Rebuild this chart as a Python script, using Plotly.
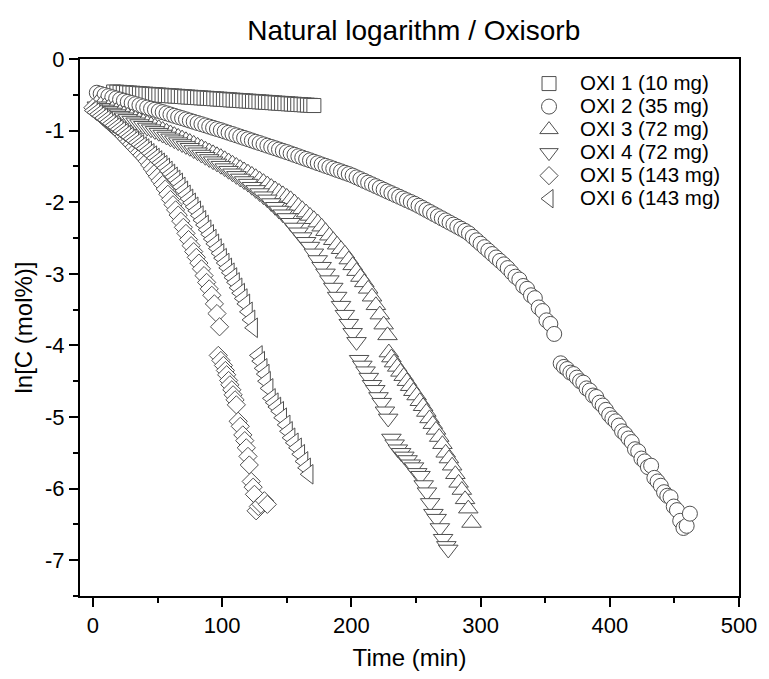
import plotly.graph_objects as go

# ---- measured series: time (min) and ln of concentration (mol%) ----
time_oxi1 = [16, 18.5, 21, 23.5, 26, 28.5, 31, 33.5, 36, 38.5, 41, 43.5, 46, 48.5, 51, 53.5,
             56, 58.5, 61, 63.5, 66, 68.5, 71, 73.5, 76, 78.5, 81, 83.5, 86, 88.5, 91, 93.5,
             96, 98.5, 101, 103.5, 106, 108.5, 111, 113.5, 116, 118.5, 121, 123.5, 126, 128.5,
             131, 133.5, 136, 138.5, 141, 143.5, 146, 148.5, 151, 153.5, 156, 158.5, 161, 163.5,
             166, 168.5, 171]
lnc_oxi1 = [-0.460, -0.463, -0.466, -0.469, -0.472, -0.475, -0.478, -0.481, -0.485, -0.488,
            -0.491, -0.494, -0.497, -0.500, -0.503, -0.506, -0.509, -0.512, -0.515, -0.518,
            -0.521, -0.524, -0.528, -0.531, -0.534, -0.537, -0.540, -0.543, -0.546, -0.549,
            -0.552, -0.555, -0.558, -0.561, -0.564, -0.567, -0.571, -0.574, -0.577, -0.580,
            -0.583, -0.586, -0.589, -0.592, -0.595, -0.598, -0.601, -0.604, -0.607, -0.610,
            -0.614, -0.617, -0.620, -0.623, -0.626, -0.629, -0.632, -0.635, -0.638, -0.641,
            -0.644, -0.647, -0.650]

time_oxi2 = [3, 6, 9, 12, 15, 18, 21, 24, 27, 30, 33, 36, 39, 42, 45, 48, 51, 54, 57, 60,
             63, 66, 69, 72, 75, 78, 81, 84, 87, 90, 93, 96, 99, 102, 105, 108, 111, 114, 117,
             120, 123, 126, 129, 132, 135, 138, 141, 144, 147, 150, 153, 156, 159, 162, 165,
             168, 171, 174, 177, 180, 183, 186, 189, 192, 195, 198, 201, 204, 207, 210, 213,
             216, 219, 222, 225, 228, 231, 234, 237, 240, 243, 246, 249, 252, 255, 258, 261,
             264, 267, 270, 273, 276, 279, 282, 285, 288, 291, 294, 297, 300, 303, 306, 309,
             312, 315, 318, 321, 324, 327, 330, 333, 336, 339, 342, 345, 348, 351, 354, 357,
             362, 364.5, 367, 369.5, 372, 374.5, 377, 379.5, 382, 384.5, 387, 389.5, 392, 394.5,
             397, 399.5, 402, 404.5, 407, 409.5, 412, 414.5, 417, 419.5, 422, 424.5, 427, 429.5,
             432, 434.5, 437, 439.5, 442, 444.5, 447, 449.5, 452, 454.5, 457, 459.5, 462]
lnc_oxi2 = [-0.471, -0.487, -0.503, -0.519, -0.535, -0.550, -0.566, -0.582, -0.598, -0.614,
            -0.630, -0.646, -0.662, -0.678, -0.694, -0.709, -0.726, -0.742, -0.759, -0.776,
            -0.793, -0.810, -0.826, -0.843, -0.860, -0.877, -0.894, -0.910, -0.927, -0.944,
            -0.961, -0.978, -0.994, -1.012, -1.030, -1.048, -1.066, -1.084, -1.102, -1.120,
            -1.138, -1.156, -1.174, -1.192, -1.210, -1.228, -1.246, -1.264, -1.282, -1.300,
            -1.319, -1.338, -1.358, -1.377, -1.396, -1.415, -1.434, -1.454, -1.473, -1.492,
            -1.511, -1.530, -1.550, -1.569, -1.588, -1.607, -1.628, -1.653, -1.677, -1.702,
            -1.727, -1.751, -1.776, -1.800, -1.825, -1.850, -1.874, -1.899, -1.923, -1.948,
            -1.973, -1.997, -2.022, -2.050, -2.079, -2.108, -2.137, -2.167, -2.196, -2.225,
            -2.254, -2.284, -2.313, -2.342, -2.371, -2.401, -2.436, -2.484, -2.532, -2.580,
            -2.628, -2.676, -2.724, -2.772, -2.820, -2.868, -2.920, -2.980, -3.040, -3.080,
            -3.170, -3.210, -3.300, -3.340, -3.470, -3.520, -3.650, -3.700, -3.840,
            -4.25, -4.30, -4.33, -4.38, -4.40, -4.45, -4.50, -4.52, -4.60, -4.63, -4.70, -4.72,
            -4.80, -4.84, -4.90, -4.97, -5.02, -5.06, -5.12, -5.20, -5.24, -5.30, -5.35, -5.45,
            -5.48, -5.58, -5.62, -5.70, -5.68, -5.85, -5.90, -5.96, -6.05, -6.10, -6.12, -6.25,
            -6.30, -6.45, -6.55, -6.52, -6.35]

time_oxi3 = [3, 6, 9, 12, 15, 18, 21, 24, 27, 30, 33, 36, 39, 42, 45, 48, 51, 54, 57, 60,
             63, 66, 69, 72, 75, 78, 81, 84, 87, 90, 93, 96, 99, 102, 105, 108, 111, 114, 117,
             120, 123, 126, 129, 132, 135, 138, 141, 144, 147, 150, 153, 156, 159, 162, 165,
             168, 171, 174, 177, 180, 183, 186, 189, 192, 195, 198, 201, 204, 207, 210, 213,
             216, 219, 222, 225, 228,
             229, 231, 233, 235.5, 238, 240.5, 243, 245.5, 248, 250.5, 253, 255.5, 258, 260.5,
             263, 265.5, 268, 270.5, 273, 275.5, 278, 280.5, 283, 285.5, 288, 290.5, 293]
lnc_oxi3 = [-0.620, -0.642, -0.664, -0.685, -0.707, -0.729, -0.751, -0.773, -0.794, -0.816,
            -0.838, -0.859, -0.881, -0.902, -0.924, -0.946, -0.968, -0.992, -1.016, -1.040,
            -1.064, -1.088, -1.112, -1.136, -1.160, -1.186, -1.213, -1.239, -1.266, -1.292,
            -1.318, -1.345, -1.371, -1.401, -1.432, -1.463, -1.494, -1.526, -1.557, -1.588,
            -1.619, -1.651, -1.686, -1.720, -1.754, -1.789, -1.823, -1.857, -1.891, -1.926,
            -1.960, -2.006, -2.053, -2.099, -2.145, -2.192, -2.238, -2.285, -2.342, -2.405,
            -2.468, -2.531, -2.594, -2.657, -2.720, -2.801, -2.882, -2.963, -3.045, -3.120,
            -3.210, -3.320, -3.440, -3.570, -3.710, -3.860,
            -4.10, -4.17, -4.24, -4.30, -4.37, -4.43, -4.50, -4.57, -4.64, -4.70, -4.78, -4.85,
            -4.93, -5.02, -5.10, -5.18, -5.28, -5.38, -5.50, -5.58, -5.68, -5.80, -5.92, -6.02,
            -6.15, -6.28, -6.48]

time_oxi4 = [3, 6, 9, 12, 15, 18, 21, 24, 27, 30, 33, 36, 39, 42, 45, 48, 51, 54, 57, 60,
             63, 66, 69, 72, 75, 78, 81, 84, 87, 90, 93, 96, 99, 102, 105, 108, 111, 114, 117,
             120, 123, 126, 129, 132, 135, 138, 141, 144, 147, 150, 153, 156, 159, 162, 165,
             168, 171, 174, 177, 180, 183, 186, 189, 192, 195, 198, 201, 204,
             206, 208.5, 211, 213.5, 216, 218.5, 221, 223.5, 226, 228.5, 231, 233.5, 236, 238.5,
             241, 243.5, 246, 248.5, 251, 253.5, 256, 258.5, 261, 263.5, 266, 268.5, 271, 273.5,
             275]
lnc_oxi4 = [-0.660, -0.682, -0.704, -0.725, -0.747, -0.769, -0.791, -0.813, -0.836, -0.860,
            -0.884, -0.908, -0.932, -0.956, -0.980, -1.004, -1.029, -1.055, -1.082, -1.108,
            -1.134, -1.161, -1.187, -1.214, -1.240, -1.271, -1.302, -1.334, -1.365, -1.396,
            -1.427, -1.458, -1.490, -1.524, -1.560, -1.596, -1.632, -1.668, -1.704, -1.740,
            -1.784, -1.828, -1.872, -1.916, -1.960, -2.012, -2.064, -2.116, -2.168, -2.220,
            -2.287, -2.353, -2.420, -2.487, -2.553, -2.620, -2.714, -2.807, -2.901, -2.994,
            -3.088, -3.192, -3.318, -3.445, -3.571, -3.697, -3.824, -3.950,
            -4.20, -4.28, -4.36, -4.45, -4.55, -4.62, -4.72, -4.80, -4.92, -5.02, -5.30, -5.38,
            -5.45, -5.50, -5.55, -5.60, -5.66, -5.70, -5.78, -5.82, -5.95, -6.05, -6.20, -6.35,
            -6.42, -6.55, -6.70, -6.80, -6.85]

time_oxi5 = [0, 2, 4, 6, 8, 10, 12, 14, 16, 18, 20, 22, 24, 26, 28, 30, 32, 34, 36, 38, 40,
             42, 44, 46, 48, 50, 52, 54, 56, 58, 60, 62, 64, 66, 68, 70, 72, 74, 76, 78, 80,
             82, 84, 86, 88, 90, 92, 94, 96, 98,
             97, 99, 101, 102.5, 103.5, 105, 106, 107.5, 108.5, 110, 111, 112.4, 114, 116,
             117.5, 118.7, 120, 121, 122.5, 124, 125, 126.3, 128, 130, 132.7, 135]
lnc_oxi5 = [-0.680, -0.712, -0.744, -0.776, -0.808, -0.840, -0.872, -0.904, -0.936, -0.968,
            -1.000, -1.038, -1.076, -1.114, -1.152, -1.190, -1.229, -1.267, -1.305, -1.343,
            -1.381, -1.427, -1.481, -1.536, -1.590, -1.644, -1.699, -1.753, -1.816, -1.889,
            -1.962, -2.035, -2.107, -2.180, -2.265, -2.351, -2.436, -2.522, -2.607, -2.690,
            -2.770, -2.850, -2.930, -3.025, -3.120, -3.210, -3.300, -3.420, -3.555, -3.740,
            -4.14, -4.21, -4.28, -4.35, -4.41, -4.49, -4.55, -4.62, -4.69, -4.76, -4.83, -5.06,
            -5.13, -5.25, -5.33, -5.43, -5.55, -5.67, -5.90, -5.98, -6.08, -6.31, -6.25, -6.22,
            -6.17, -6.22]

time_oxi6 = [0, 2, 4, 6, 8, 10, 12, 14, 16, 18, 20, 22, 24, 26, 28, 30, 32, 34, 36, 38, 40,
             42, 44, 46, 48, 50, 52, 54, 56, 58, 60, 62, 64, 66, 68, 70, 72, 74, 76, 78, 80,
             82, 84, 86, 88, 90, 92, 94, 96, 98, 100, 102, 104, 106, 108, 110, 112, 114, 116,
             118, 120, 122, 124,
             127.7, 129.5, 131.4, 133, 134, 136, 137.8, 140, 142, 144.2, 146.5, 149.2, 151, 153,
             155.5, 158, 160.5, 163, 165, 167]
lnc_oxi6 = [-0.720, -0.746, -0.772, -0.798, -0.824, -0.850, -0.876, -0.902, -0.928, -0.954,
            -0.980, -1.007, -1.034, -1.061, -1.088, -1.115, -1.142, -1.169, -1.196, -1.223,
            -1.250, -1.283, -1.317, -1.350, -1.383, -1.417, -1.450, -1.483, -1.521, -1.563,
            -1.605, -1.646, -1.688, -1.730, -1.786, -1.841, -1.897, -1.953, -2.009, -2.064,
            -2.120, -2.186, -2.252, -2.318, -2.384, -2.449, -2.515, -2.581, -2.647, -2.714,
            -2.782, -2.849, -2.917, -2.985, -3.052, -3.120, -3.195, -3.270, -3.345, -3.420,
            -3.531, -3.643, -3.754,
            -4.14, -4.22, -4.32, -4.40, -4.50, -4.60, -4.74, -4.80, -4.86, -4.92, -5.01, -5.11,
            -5.20, -5.29, -5.36, -5.43, -5.52, -5.62, -5.71, -5.80]

series_names = ["OXI 1 (10 mg)", "OXI 2 (35 mg)", "OXI 3 (72 mg)",
                "OXI 4 (72 mg)", "OXI 5 (143 mg)", "OXI 6 (143 mg)"]
series_symbols = ["square", "circle", "triangle-up", "triangle-down", "diamond", "triangle-left"]

x_tick_vals = [0, 100, 200, 300, 400, 500]
x_tick_text = ["0", "100", "200", "300", "400", "500"]
y_tick_vals = [0, -1, -2, -3, -4, -5, -6, -7]
y_tick_text = ["0", "-1", "-2", "-3", "-4", "-5", "-6", "-7"]

FONT = "Liberation Sans, Arial, Helvetica, sans-serif"
EDGE = "#505050"

series_x = [time_oxi1, time_oxi2, time_oxi3, time_oxi4, time_oxi5, time_oxi6]
series_y = [lnc_oxi1, lnc_oxi2, lnc_oxi3, lnc_oxi4, lnc_oxi5, lnc_oxi6]
marker_sizes = [14, 15, 17, 17, 14, 17]

fig = go.Figure()
for xs, ys, name, sym, size in zip(series_x, series_y, series_names, series_symbols, marker_sizes):
    fig.add_trace(go.Scatter(
        x=xs, y=ys, mode="markers",
        name='<span style="font-size:20.5px">' + name + "</span>",
        marker=dict(symbol=sym, size=size, color="white",
                    line=dict(color=EDGE, width=1)),
    ))

axis_common = dict(
    showline=True, linecolor="black", linewidth=2, mirror=True,
    ticks="outside", ticklen=9, tickwidth=2, tickcolor="black",
    showgrid=False, zeroline=False,
    tickfont=dict(family=FONT, size=22, color="black"),
    title_font=dict(family=FONT, size=24, color="black"),
)

fig.update_xaxes(
    range=[-10, 500], tickmode="array", tickvals=x_tick_vals, ticktext=x_tick_text,
    minor=dict(dtick=50, tick0=0, ticks="outside", ticklen=5, tickwidth=2, tickcolor="black"),
    title_text="Time (min)", title_standoff=12, **axis_common,
)
fig.update_yaxes(
    range=[-7.5, 0], tickmode="array", tickvals=y_tick_vals, ticktext=y_tick_text,
    minor=dict(dtick=0.5, tick0=0, ticks="outside", ticklen=5, tickwidth=2, tickcolor="black"),
    title_text="ln[C (mol%)]", title_standoff=6, **axis_common,
)

fig.update_layout(
    width=769, height=679,
    margin=dict(l=80, r=21, t=59, b=80),
    paper_bgcolor="white", plot_bgcolor="white",
    font=dict(family=FONT, color="black"),
    title=dict(text="Natural logarithm / Oxisorb", x=0.538, xanchor="center",
               y=0.955, yanchor="middle", yref="container",
               font=dict(family=FONT, size=28, color="black")),
    legend=dict(x=(524 - 80) / 668, y=0.985, xanchor="left", yanchor="top",
                bgcolor="rgba(0,0,0,0)", borderwidth=0, itemwidth=52,
                font=dict(family=FONT, size=15.4, color="black")),
    showlegend=True,
)

fig.write_html("out.html")
